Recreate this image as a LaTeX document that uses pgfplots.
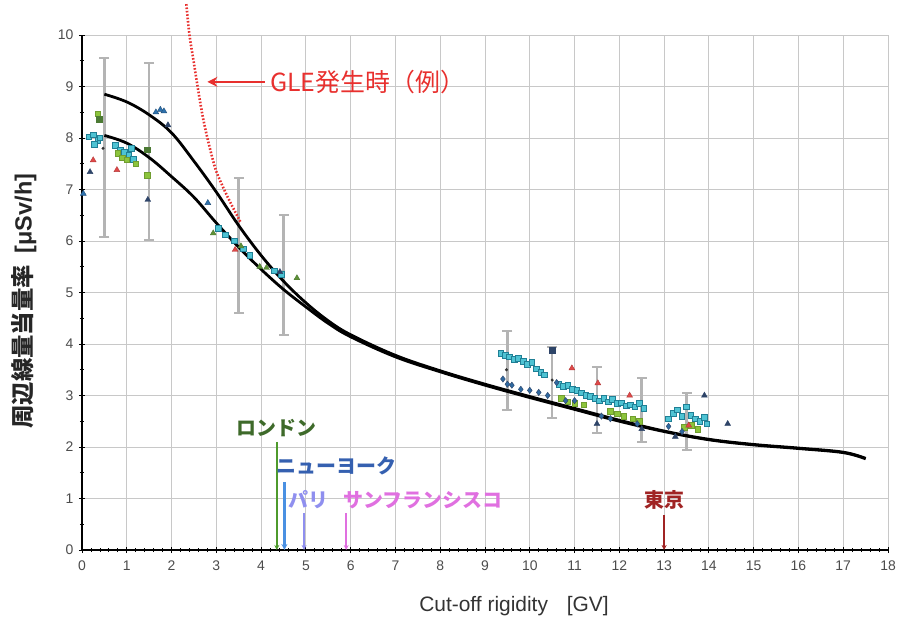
\documentclass[border=0pt]{standalone}
\usepackage{fontspec}
\usepackage{pgfplots}
\pgfplotsset{compat=1.18}
\usetikzlibrary{arrows.meta}
\setmainfont{Liberation Sans}
\newfontfamily\jp{Noto Sans CJK JP}

\definecolor{gridgray}{HTML}{C8C8C8}
\definecolor{errgray}{HTML}{B4B4B4}
\definecolor{cyanfill}{HTML}{4EC3D3}
\definecolor{cyanedge}{HTML}{1F7F95}
\definecolor{ygreen}{HTML}{8CC43C}
\definecolor{dgreen}{HTML}{4C7A34}
\definecolor{tred}{HTML}{E04848}
\definecolor{navy}{HTML}{2E4468}
\definecolor{midblue}{HTML}{2F72AE}
\definecolor{glered}{HTML}{E8302E}
\definecolor{londonline}{HTML}{4E9A2C}
\definecolor{londontext}{HTML}{3E6A2A}
\definecolor{nyline}{HTML}{4A90E2}
\definecolor{nytext}{HTML}{3560B0}
\definecolor{parisc}{HTML}{8F8FEF}
\definecolor{sfc}{HTML}{E070E0}
\definecolor{tokyoc}{HTML}{A02424}

\pgfplotsset{errbar/.style={errgray, line width=2.6pt, mark=-, mark size=5bp,
     mark options={line width=2.2pt}}}

\begin{document}
\begin{tikzpicture}
\useasboundingbox (-82bp,-77bp) rectangle (818bp,550bp);
\begin{axis}[
  scale only axis,
  width=806bp, height=515bp,
  xmin=0, xmax=18, ymin=0, ymax=10,
  xtick={0,1,...,18}, ytick={0,1,...,10},
  minor x tick num=4, minor y tick num=1,
  grid=major,
  major grid style={gridgray, line width=0.9pt},
  axis x line*=bottom, axis y line*=left,
  axis line style={-, black, line width=1.1pt},
  tick align=center,
  major tick length=6bp, minor tick length=4bp,
  tick style={black, line width=0.8pt},
  clip=false,
  /pgf/number format/assume math mode=true,
  tick label style={font=\fontsize{14}{14}\selectfont, text=black!70},
  xticklabel style={yshift=-4bp},
  yticklabel style={xshift=-2bp},
  xlabel={Cut-off rigidity\hspace{0.9em}[GV]},
  xlabel style={font=\fontsize{21}{21}\selectfont, text=black!80,
                at={(rel axis cs:0.536,0)}, anchor=center, yshift=-56bp},
  ylabel={{\jp\bfseries 周辺線量当量率}\hspace{0.5em}{\bfseries[μSv/h]}},
  ylabel style={font=\fontsize{23.5}{24}\selectfont, text=black!85,
                at={(rel axis cs:0,0.483)}, anchor=center, yshift=58bp},
]

% spread of the measured dose rates
\addplot[errbar] coordinates {(0.5,6.08) (0.5,9.55)};
\addplot[errbar] coordinates {(1.5,6.02) (1.5,9.46)};
\addplot[errbar] coordinates {(3.5,4.6) (3.5,7.22)};
\addplot[errbar] coordinates {(4.5,4.17) (4.5,6.5)};
\addplot[errbar] coordinates {(9.5,2.72) (9.5,4.25)};
\addplot[errbar] coordinates {(10.5,2.56) (10.5,3.94)};
\addplot[errbar] coordinates {(11.5,2.27) (11.5,3.55)};
\addplot[errbar] coordinates {(12.5,2.1) (12.5,3.34)};
\addplot[errbar] coordinates {(13.5,1.94) (13.5,3.05)};

% in-flight measurements
\addplot[only marks, mark=square*, mark size=2.8bp, mark options={fill=cyanfill, draw=cyanedge, line width=0.7pt}]
coordinates {
(0.15,8.02)(0.25,8.06)(0.35,7.96)(0.28,7.88)(0.4,8.0)
(0.75,7.86)(0.85,7.76)(0.95,7.72)(1.05,7.66)(1.15,7.58)(1.1,7.8)
(3.05,6.25)(3.2,6.12)(3.4,6.0)(3.6,5.85)(3.75,5.72)(4.3,5.42)(4.45,5.35)
(9.35,3.82)(9.45,3.78)(9.55,3.75)(9.65,3.7)(9.75,3.72)(9.85,3.66)(9.95,3.6)(10.05,3.64)(10.15,3.52)(10.25,3.45)(10.32,3.4)
(10.65,3.22)(10.75,3.18)(10.85,3.2)(10.95,3.12)(11.05,3.1)(11.15,3.05)(11.25,3.0)(11.35,2.98)(11.45,2.95)(11.55,2.9)
(11.65,2.95)(11.75,2.88)(11.85,2.92)(11.95,2.85)(12.05,2.86)(12.15,2.8)(12.25,2.82)(12.35,2.78)(12.45,2.85)(12.55,2.75)
(13.1,2.55)(13.2,2.65)(13.3,2.72)(13.4,2.6)(13.5,2.78)(13.6,2.62)(13.7,2.55)(13.8,2.5)(13.9,2.58)(13.95,2.45)
};
\addplot[only marks, mark=square*, mark size=2.8bp, mark options={fill=ygreen, draw=ygreen!80!black}]
coordinates {
(0.35,8.47)(0.8,7.7)(0.9,7.62)(1.0,7.58)(1.2,7.5)(1.45,7.28)
(10.7,2.95)(10.85,2.88)(11.0,2.85)(11.2,2.82)(11.8,2.7)(11.95,2.65)(12.1,2.6)(12.3,2.55)(12.45,2.5)
(13.45,2.38)(13.6,2.42)(13.75,2.35)
};
\addplot[only marks, mark=square*, mark size=2.8bp, mark options={fill=dgreen, draw=dgreen}]
coordinates {(0.38,8.36)(1.45,7.77)};
\addplot[only marks, mark=triangle*, mark size=3.4bp, mark options={fill=dgreen!70!ygreen, draw=dgreen}]
coordinates {(2.93,6.15)(3.97,5.5)(4.12,5.48)(4.8,5.28)(3.55,5.9)};
\addplot[only marks, mark=triangle*, mark size=3.4bp, mark options={fill=tred, draw=tred!80!black}]
coordinates {(0.25,7.57)(0.78,7.38)(3.42,5.83)(10.94,3.53)(11.52,3.24)(12.23,3.0)(13.55,2.42)};
\addplot[only marks, mark=triangle*, mark size=3.4bp, mark options={fill=navy, draw=navy}]
coordinates {(0.18,7.34)(1.47,6.8)(1.92,8.25)(4.42,5.4)(11.5,2.45)(12.5,2.35)(13.9,3.0)(14.42,2.45)(13.25,2.2)};
\addplot[only marks, mark=square*, mark size=2.8bp, mark options={fill=navy, draw=navy}]
coordinates {(10.5,3.88)};
\addplot[only marks, mark=triangle*, mark size=3.4bp, mark options={fill=midblue, draw=midblue!70!black}]
coordinates {(0.03,6.92)(1.65,8.5)(1.75,8.55)(1.83,8.52)(2.81,6.74)};
\addplot[only marks, mark=diamond*, mark size=3.2bp, mark options={fill=midblue!80!navy, draw=navy}]
coordinates {
(9.4,3.32)(9.5,3.22)(9.6,3.2)(9.8,3.12)(10.0,3.1)(10.2,3.06)(10.4,3.0)(10.6,3.25)(10.8,2.9)(11.0,2.9)
(11.6,2.6)(11.8,2.55)(12.4,2.45)(13.1,2.4)(13.4,2.3)
};
\addplot[only marks, mark=*, mark size=1.3bp, mark options={fill=black!80, draw=black!80}]
coordinates {(0.47,7.8)(9.48,3.5)(10.5,3.3)};

% model calculations
\addplot[black, line width=2.8pt, smooth, tension=0.6] coordinates {
(0.5,8.85)(1,8.7)(1.5,8.45)(2,8.1)(2.5,7.55)(3,6.95)(3.5,6.3)(4,5.72)(4.5,5.22)(5,4.8)(5.5,4.45)(6,4.18)
(7,3.78)(8,3.48)(9,3.22)(10,2.98)(11,2.75)(12,2.52)(13,2.31)(14,2.15)(15,2.05)(16,1.98)(17,1.9)(17.5,1.78)
};
\addplot[black, line width=2.8pt, smooth, tension=0.6] coordinates {
(0.5,8.05)(1,7.9)(1.5,7.62)(2,7.25)(2.5,6.85)(3,6.35)(3.5,5.88)(4,5.45)(4.5,5.06)(5,4.72)(5.5,4.4)(6,4.14)
(7,3.75)(8,3.46)(9,3.2)(10,2.96)(11,2.73)(12,2.5)(13,2.3)(14,2.14)(15,2.04)(16,1.97)(17,1.89)(17.5,1.77)
};

% GLE example
\addplot[glered, line width=2.6pt, dash pattern=on 1.6bp off 1.8bp, smooth] coordinates {
(2.33,10.6)(2.4,10.0)(2.5,9.45)(2.6,8.9)(2.7,8.4)(2.8,8.0)(2.9,7.65)(3.0,7.35)(3.2,6.95)(3.4,6.6)(3.55,6.35)
};
\draw[glered, line width=2.4pt, -{Stealth[length=10bp, width=10bp]}] (axis cs:4.08,9.09) -- (axis cs:2.8,9.09);
\node[anchor=west, text=glered, font=\jp\fontsize{25}{25}\selectfont, inner sep=0pt] at (axis cs:4.2,9.09) {GLE発生時（例）};

% cities
\draw[londonline, line width=1.8pt, -{Stealth[length=5bp, width=5bp]}] (axis cs:4.35,2.1) -- (axis cs:4.35,0);
\node[text=londontext, font=\jp\bfseries\fontsize{20}{20}\selectfont, inner sep=0pt] at (axis cs:4.35,2.37) {ロンドン};
\draw[nyline, line width=2.6pt, -{Stealth[length=6bp, width=6bp]}] (axis cs:4.52,1.32) -- (axis cs:4.52,0);
\node[anchor=west, text=nytext, font=\jp\bfseries\fontsize{20}{20}\selectfont, inner sep=0pt] at (axis cs:4.35,1.63) {ニューヨーク};
\draw[parisc, line width=1.6pt, -{Stealth[length=5bp, width=5bp]}] (axis cs:4.96,0.72) -- (axis cs:4.96,0);
\node[anchor=west, text=parisc, font=\jp\bfseries\fontsize{20}{20}\selectfont, inner sep=0pt] at (axis cs:4.6,0.97) {パリ};
\draw[sfc, line width=1.6pt, -{Stealth[length=5bp, width=5bp]}] (axis cs:5.9,0.72) -- (axis cs:5.9,0);
\node[anchor=west, text=sfc, font=\jp\bfseries\fontsize{20}{20}\selectfont, inner sep=0pt] at (axis cs:5.83,0.97) {サンフランシスコ};
\draw[tokyoc, line width=1.6pt, -{Stealth[length=5bp, width=5bp]}] (axis cs:13,0.68) -- (axis cs:13,0);
\node[text=tokyoc, font=\jp\bfseries\fontsize{20}{20}\selectfont, inner sep=0pt] at (axis cs:13,0.97) {東京};
\end{axis}
\end{tikzpicture}
\end{document}
